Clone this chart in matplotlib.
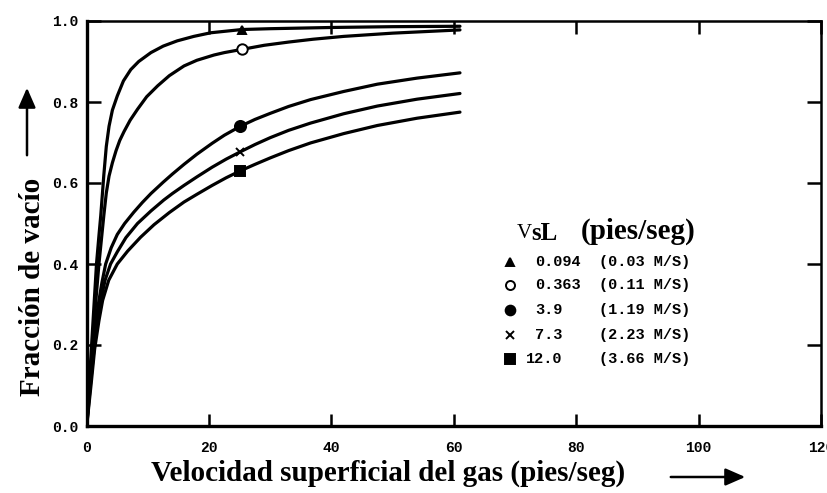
import matplotlib
matplotlib.use("Agg")
import matplotlib.pyplot as plt
from matplotlib.patches import FancyArrowPatch

# ---- data ----
x1 = [0, 0.4, 0.8, 1.2, 1.6, 2.0, 2.3, 2.8, 3.2, 3.65, 4.2, 5.0, 6.0, 7.2, 8.5, 10.5,
      12.5, 14.8, 17.5, 20.3, 25.4, 30, 40, 50, 61]
y1 = [0, 0.10, 0.20, 0.30, 0.40, 0.47, 0.52, 0.62, 0.69, 0.74, 0.78, 0.815, 0.852, 0.88, 0.90, 0.922,
      0.938, 0.951, 0.962, 0.971, 0.979, 0.981, 0.984, 0.986, 0.987]

x2 = [0, 0.5, 1.0, 1.5, 2.0, 2.4, 2.8, 3.2, 3.65, 4.2, 4.8, 5.4, 6.1, 7.1, 8.3, 9.8, 11.6,
      13.5, 15.9, 18, 20.8, 22.5, 25.4, 29, 33, 37, 42, 50, 61]
y2 = [0, 0.11, 0.21, 0.31, 0.40, 0.46, 0.52, 0.575, 0.617, 0.65, 0.68, 0.705, 0.727, 0.755, 0.782,
      0.813, 0.84, 0.865, 0.889, 0.903, 0.916, 0.922, 0.930, 0.940, 0.948, 0.955, 0.962, 0.970, 0.978]

x3 = [0, 0.5, 1.0, 1.5, 2.0, 2.5, 3.1, 4.0, 5.0, 6.2, 7.7, 9.1, 10.5, 12.5, 14, 15.9, 18,
      20.5, 22.5, 25.1, 27.5, 30, 33, 36.6, 42, 47.5, 54, 61]
y3 = [0, 0.10, 0.19, 0.26, 0.31, 0.355, 0.40, 0.44, 0.473, 0.50, 0.528, 0.552, 0.574, 0.602, 0.622,
      0.646, 0.671, 0.698, 0.718, 0.740, 0.757, 0.772, 0.789, 0.806, 0.826, 0.844, 0.859, 0.872]

x4 = [0, 0.6, 1.2, 1.8, 2.3, 3.0, 3.9, 5.0, 6.4, 8.3, 10.5, 12.6, 14, 15.9, 18, 20.5, 22.8,
      25.1, 27.5, 30, 33, 36.6, 42, 47.5, 54, 61]
y4 = [0, 0.10, 0.19, 0.26, 0.31, 0.36, 0.40, 0.43, 0.465, 0.50, 0.531, 0.558, 0.574, 0.594, 0.615,
      0.639, 0.659, 0.677, 0.695, 0.712, 0.730, 0.748, 0.771, 0.790, 0.807, 0.821]

x5 = [0, 0.7, 1.3, 2.0, 2.6, 3.6, 5.0, 6.7, 8.8, 11, 13.5, 15.9, 18, 20.5, 22.8, 25.1,
      27.5, 30, 33, 36.6, 42, 47.5, 54, 61]
y5 = [0, 0.10, 0.19, 0.26, 0.31, 0.36, 0.40, 0.432, 0.466, 0.497, 0.527, 0.553, 0.572, 0.594,
      0.613, 0.630, 0.646, 0.662, 0.680, 0.699, 0.722, 0.742, 0.760, 0.775]

marker_x = [25.4, 25.4, 25.1, 25.1, 25.1]
marker_y = [0.979, 0.930, 0.74, 0.677, 0.63]

legend_vals = ["0.094", "0.363", "3.9", "7.3", "12.0"]
legend_si = ["(0.03 M/S)", "(0.11 M/S)", "(1.19 M/S)", "(2.23 M/S)", "(3.66 M/S)"]

xticks = [0, 20, 40, 60, 80, 100, 120]
yticks = [0.0, 0.2, 0.4, 0.6, 0.8, 1.0]

# ---- figure ----
W, H = 828, 493
fig = plt.figure(figsize=(W / 100, H / 100), dpi=100)
L, R, T, B = 86.7, 821, 21, 426
ax = fig.add_axes([L / W, 1 - B / H, (R - L) / W, (B - T) / H])

series = [(x1, y1), (x2, y2), (x3, y3), (x4, y4), (x5, y5)]
markers = [("^", "k", 6), ("o", "white", 7.5), ("o", "k", 8), ("x", "k", 6), ("s", "k", 7.5)]
for (xs, ys), (mx, my), (m, fc, ms) in zip(series, zip(marker_x, marker_y), markers):
    ax.plot(xs, ys, color="k", lw=2.3, solid_capstyle="round", solid_joinstyle="round")
    ax.plot([mx], [my], marker=m, color="k", mfc=fc, ms=ms, mew=1.4, ls="none")

ax.set_xlim(0, 120)
ax.set_ylim(0, 1.0)
ax.set_xticks(xticks)
ax.set_yticks(yticks)
ax.set_xticklabels([str(v) for v in xticks])
ax.set_yticklabels([f"{v:.1f}" for v in yticks])

for lab in ax.get_xticklabels() + ax.get_yticklabels():
    lab.set_fontfamily("Liberation Mono")
    lab.set_fontweight("bold")
    lab.set_fontsize(10.5)

ax.tick_params(axis="both", direction="in", top=True, right=True, width=1.8, colors="k")
ax.tick_params(axis="x", length=9, pad=11)
ax.tick_params(axis="y", length=10, pad=6)

for s in ["left", "bottom"]:
    ax.spines[s].set_linewidth(2.4)
for s in ["top", "right"]:
    ax.spines[s].set_linewidth(1.8)

# ---- legend as text block ----
def afx(px):
    return (px - L) / (R - L)

def afy(py):
    return (B - py) / (B - T)

serif = "Liberation Serif"
mono = dict(family="Liberation Mono", weight="bold", size=11)
ax.text(afx(517), afy(233), "V", transform=ax.transAxes, family=serif, fontsize=15,
        ha="left", va="center")
ax.text(afx(531), afy(233), "sL", transform=ax.transAxes, family=serif, fontsize=18,
        weight="bold", ha="left", va="center")
ax.text(afx(581), afy(231), "(pies/seg)", transform=ax.transAxes, family=serif, fontsize=21,
        weight="bold", ha="left", va="center")

rows_y = [262, 285, 310, 335, 359]
leg_markers = [("^", "k", 5.5), ("o", "white", 6.5), ("o", "k", 7), ("x", "k", 5.5), ("s", "k", 7)]
for ry, val, si, (m, fc, ms) in zip(rows_y, legend_vals, legend_si, leg_markers):
    ax.plot([afx(510)], [afy(ry)], marker=m, color="k", mfc=fc, ms=ms, mew=1.4,
            transform=ax.transAxes, clip_on=False)
    vx = 526 if val.startswith("12") else 535
    ax.text(afx(vx), afy(ry), val, transform=ax.transAxes, ha="left", va="center", **mono)
    ax.text(afx(599), afy(ry), si, transform=ax.transAxes, ha="left", va="center", **mono)

# ---- axis labels with arrows ----
fig.text(151 / W, 1 - 473 / H, "Velocidad superficial del gas (pies/seg)", family=serif,
         fontsize=21, weight="bold", ha="left", va="center")
fig.add_artist(FancyArrowPatch(
    (668 / W, 1 - 477 / H), (748 / W, 1 - 477 / H), transform=fig.transFigure,
    arrowstyle="-|>,head_length=8,head_width=3.5", lw=1.8, color="k", mutation_scale=1.5))

fig.text(33 / W, 1 - 287 / H, "Fracción de vacío", family=serif, fontsize=21, weight="bold",
         rotation=90, ha="center", va="center")
fig.add_artist(FancyArrowPatch(
    (27 / W, 1 - 158 / H), (27 / W, 1 - 85 / H), transform=fig.transFigure,
    arrowstyle="-|>,head_length=8,head_width=3.5", lw=1.8, color="k", mutation_scale=1.5))

fig.savefig("out.png", dpi=100, facecolor="white")
